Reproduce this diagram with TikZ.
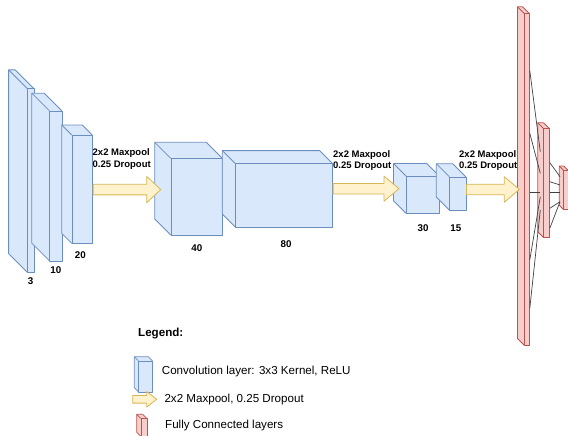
\documentclass[tikz,border=0pt]{standalone}
\usepackage{fontspec}
\setmainfont{Liberation Sans}
\usetikzlibrary{positioning,calc}

\definecolor{convfill}{HTML}{DAE8FC}
\definecolor{convdraw}{HTML}{6C8EBF}
\definecolor{poolfill}{HTML}{FFF2CC}
\definecolor{pooldraw}{HTML}{D6B656}
\definecolor{fcfill}{HTML}{F8CECC}
\definecolor{fcdraw}{HTML}{B85450}

% cuboid layer: name, front top-left x, y, width, height, depth, style
\newcommand{\layer}[7]{%
  \path[#7] (#2-#6,#3-#6) -- (#2+#4-#6,#3-#6) -- (#2+#4,#3) -- (#2+#4,#3+#5)
    -- (#2,#3+#5) -- (#2-#6,#3+#5-#6) -- cycle;
  \path[#7] (#2-#6,#3-#6) -- (#2,#3);
  \node[#7, anchor=north west, minimum width=#4, minimum height=#5] (#1) at (#2,#3) {};
}

% block arrow: from, tip, shaft half width, head half width, head length
\newcommand{\poolarrow}[5]{%
  \path[poolarr] let \p1=#1, \p2=#2 in
    (\x1,\y1+#3) -- (\x2-#5,\y1+#3) -- (\x2-#5,\y1+#4) -- (\x2,\y1)
    -- (\x2-#5,\y1-#4) -- (\x2-#5,\y1-#3) -- (\x1,\y1-#3) -- cycle;
}

\begin{document}
\begin{tikzpicture}[
    x=1pt, y=-1pt,
    convlayer/.style={
        fill=convfill,
        draw=convdraw,
        line width=0.8pt,
        line join=round,
        inner sep=0pt
    },
    fclayer/.style={
        fill=fcfill,
        draw=fcdraw,
        line width=0.8pt,
        line join=round,
        inner sep=0pt
    },
    poolarr/.style={
        fill=poolfill,
        draw=pooldraw,
        line width=0.8pt,
        line join=round
    },
    poollabel/.style={
        font=\bfseries\fontsize{9.5}{11.8}\selectfont,
        align=left,
        anchor=west,
        inner sep=0pt
    },
    numlabel/.style={
        font=\bfseries\fontsize{9.8}{11}\selectfont,
        inner sep=0pt
    },
    legendtext/.style={
        font=\fontsize{11.6}{13}\selectfont,
        anchor=west,
        inner sep=0pt
    },
    fcline/.style={black!75, line width=0.7pt}
]
\useasboundingbox (0,0) rectangle (568,436);

% convolution blocks
\layer{c3}{27}{88.3}{6.6}{183.7}{18.4}{convlayer}
\layer{c10}{49.3}{110.7}{12.4}{150}{17.5}{convlayer}
\layer{c20}{71.7}{135}{20.6}{108.3}{10}{convlayer}

\layer{c40}{170.7}{158.3}{51.6}{76.7}{16}{convlayer}
\layer{c80}{235}{163.3}{97.3}{63.4}{12.7}{convlayer}

\layer{c30}{406}{176}{33.3}{37.3}{12.5}{convlayer}
\layer{c15}{449.3}{176.7}{16.4}{33.3}{13}{convlayer}

% fully connected layers
\layer{fc1}{524}{13.3}{5}{331.7}{6.5}{fclayer}
\layer{fc2}{543.3}{128.3}{5.7}{109}{5.5}{fclayer}
\layer{fc3}{563.3}{170}{4.5}{39.3}{4}{fclayer}

% filter counts
\node[numlabel, below=4.7pt of c3] (n3) {3};
\node[numlabel, below=5pt of c10] (n10) {10};
\node[numlabel, below=7.4pt of c20, xshift=-2pt] (n20) {20};
\node[numlabel, below=8.4pt of c40] (n40) {40};
\node[numlabel, below=13.3pt of c80, xshift=2pt] (n80) {80};
\node[numlabel, below=10.7pt of c30] (n30) {30};
\node[numlabel, below=14pt of c15, xshift=-2pt] (n15) {15};

% maxpool / dropout arrows
\poolarrow{(c20.east)}{($(c40.west)+(-10,0)$)}{5.3pt}{13.2pt}{14pt}
\poolarrow{($(c80.east)+(0,-6.7)$)}{($(c30.west)+(-7,0)$)}{5.3pt}{12.5pt}{15pt}
\poolarrow{($(c15.east)+(0,-4.3)$)}{($(fc1.west)+(-4.7,0)$)}{5.3pt}{12.8pt}{15pt}

\node[poollabel] (p1) at (92.5,158.8) {2x2 Maxpool\\0.25 Dropout};
\node[poollabel] (p2) at (333,160.5) {2x2 Maxpool\\0.25 Dropout};
\node[poollabel] (p3) at (459,160.5) {2x2 Maxpool\\0.25 Dropout};

% dense connections
\foreach \a/\b in {70.7/151.7, 133.3/173.3, 192.3/192.3, 260/196.7, 308.3/210}
    \draw[fcline] (fc1.east |- 0,\a) -- ($(fc2.west |- 0,\b)+(-3,0)$);
\foreach \a/\b in {162.7/176.7, 181.7/185, 192.3/192.3, 208.3/201.7, 228.3/201.7}
    \draw[fcline] (fc2.east |- 0,\a) -- ($(fc3.west |- 0,\b)+(-3.3,0)$);

% legend
\node[legendtext, font=\bfseries\fontsize{11.6}{13}\selectfont] (legtitle) at (138,333.3) {Legend:};

\layer{legconv}{138.3}{360.7}{14}{31}{4}{convlayer}
\node[legendtext] (legconvtxt) at (161.7,371) {Convolution layer: 3x3 Kernel, ReLU};

\coordinate (la) at (132.7,399.3);
\coordinate (lb) at (156.7,399.3);
\poolarrow{(la)}{(lb)}{3.8pt}{7.8pt}{10pt}
\node[legendtext] (legpooltxt) at (164.3,399) {2x2 Maxpool, 0.25 Dropout};

\layer{legfc}{140.7}{418.3}{6}{18}{4}{fclayer}
\node[legendtext] (legfctxt) at (165,425) {Fully Connected layers};

\end{tikzpicture}
\end{document}
